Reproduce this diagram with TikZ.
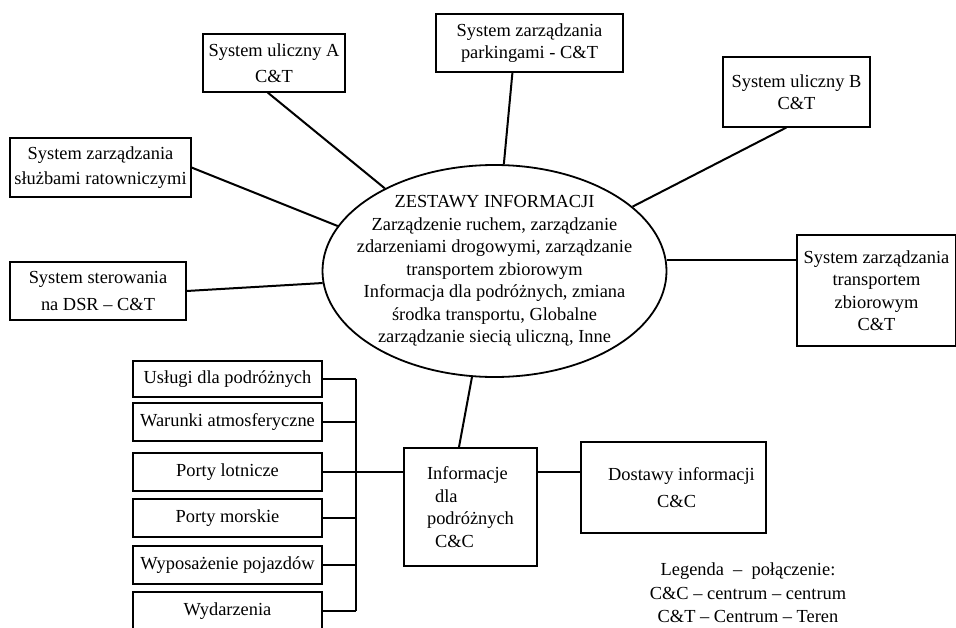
\documentclass[tikz,border=0pt]{standalone}
\usepackage{fontspec}
\setmainfont{Liberation Serif}
\usetikzlibrary{shapes.geometric}

\begin{document}
\begin{tikzpicture}[x=1pt,y=-1pt,
  box/.style={draw,line width=1.1pt,inner sep=0pt,align=center,font=\fontsize{18.4}{22.5}\selectfont},
  item/.style={box,minimum width=189pt,minimum height=38pt},
  edge/.style={line width=2pt}]
\useasboundingbox (0,0) rectangle (956,627);

\node[box,minimum width=142pt,minimum height=58pt] (A) at (274,63) {System uliczny A\\[4pt]C\&T};
\node[box,minimum width=187pt,minimum height=58pt] (P) at (529.5,43) {System zarządzania\\parkingami - C\&T};
\node[box,minimum width=147pt,minimum height=70pt] (B) at (796.5,92) {System uliczny B\\C\&T};
\node[box,minimum width=181pt,minimum height=59pt] (R) at (100.5,167.5) {System zarządzania\\[2pt]służbami ratowniczymi};
\node[box,minimum width=176pt,minimum height=58pt] (D) at (98,291) {System sterowania\\[4pt]na DSR – C\&T};
\node[box,minimum width=159pt,minimum height=111pt] (T) at (876.5,290.5) {System zarządzania\\transportem\\zbiorowym\\C\&T};

\node[ellipse,draw,line width=1.8pt,minimum width=344pt,minimum height=212pt,inner sep=-22pt,align=center,font=\fontsize{18.4}{22.5}\selectfont] (Z) at (494.5,271)
  {ZESTAWY INFORMACJI\\Zarządzenie ruchem, zarządzanie\\zdarzeniami drogowymi, zarządzanie\\transportem zbiorowym\\Informacja dla podróżnych, zmiana\\środka transportu, Globalne\\zarządzanie siecią uliczną, Inne};

\node[item,minimum height=36pt] (U1) at (227.5,379) {Usługi dla podróżnych};
\node[item] (U2) at (227.5,422) {Warunki atmosferyczne};
\node[item] (U3) at (227.5,472) {Porty lotnicze};
\node[item] (U4) at (227.5,518) {Porty morskie};
\node[item] (U5) at (227.5,565) {Wyposażenie pojazdów};
\node[item] (U6) at (227.5,611) {Wydarzenia};

\node[box,minimum width=133pt,minimum height=118pt,align=left] (I) at (470.5,507) {Informacje\\\hspace{8pt}dla\\podróżnych\\\hspace{8pt}C\&C};
\node[box,minimum width=185pt,minimum height=91pt,align=left] (S) at (673.5,487.5) {\hspace{16pt}Dostawy informacji\\[4.5pt]\hspace{65pt}C\&C};

\node[align=center,font=\fontsize{18.4}{23.5}\selectfont] (L) at (748,593) {Legenda \ – \ połączenie:\\C\&C – centrum – centrum\\C\&T – Centrum – Teren};

\coordinate (bus) at (356,379);

\draw[edge] (A.258) -- (Z.143);
\draw[edge] (P.240) -- (Z.85);
\draw[edge] (B.254) -- (Z.25);
\draw[edge] (R.east) -- (Z.164);
\draw[edge] (D.east) -- (Z.184);
\draw[edge] (T.159) -- (Z.east |- T.159);
\draw[edge] (I.101) -- (Z.258);

\foreach \u in {U1,U2,U3,U4,U5,U6}
  \draw[edge] (\u.east) -- (\u.east -| bus);
\draw[edge] (U1.east -| bus) -- (U6.east -| bus);
\draw[edge] (U3.east -| bus) -- (I.west |- U3.east);
\draw[edge] (I.east |- U3.east) -- (S.west |- U3.east);

\end{tikzpicture}
\end{document}
